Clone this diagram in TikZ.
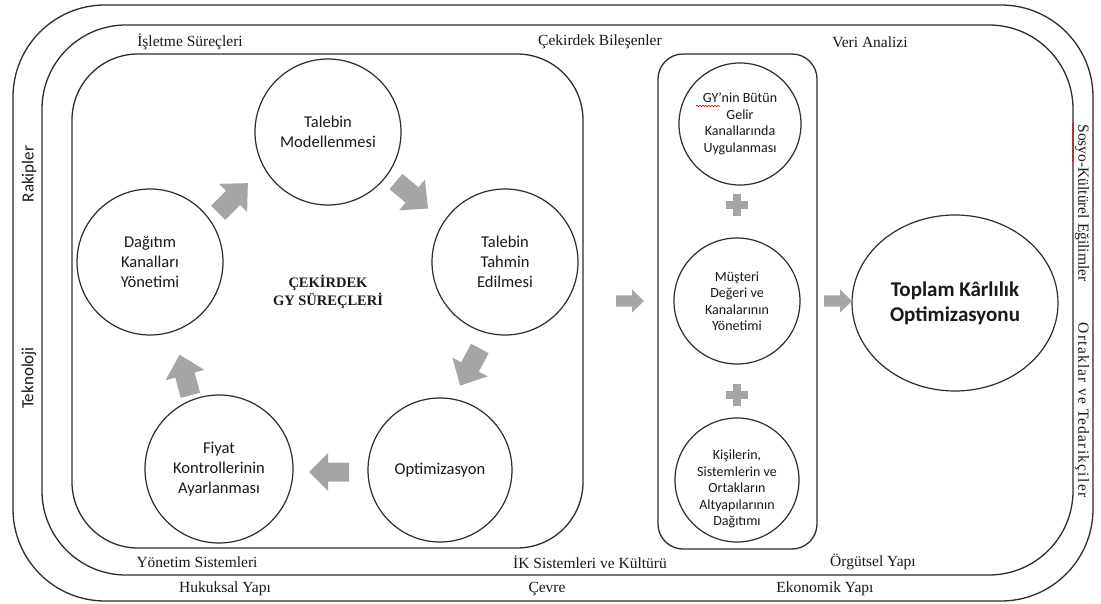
\documentclass[tikz,border=0pt]{standalone}
\usepackage{fontspec}
\setmainfont{Liberation Serif}
\newfontfamily\calibfont{Carlito}
\usetikzlibrary{shapes.geometric,decorations.pathmorphing}

\definecolor{linegray}{RGB}{45,45,45}
\definecolor{arrowgray}{RGB}{165,165,165}
\definecolor{txtgray}{RGB}{25,25,25}

% block arrow: x, y, angle, length, head length, head width, shaft width
\newcommand{\blockarrow}[7]{%
  \fill[arrowgray, shift={(#1,#2)}, rotate=#3]
    (-#4/2,-#7/2) -- (#4/2-#5,-#7/2) -- (#4/2-#5,-#6/2) -- (#4/2,0)
    -- (#4/2-#5,#6/2) -- (#4/2-#5,#7/2) -- (-#4/2,#7/2) -- cycle;}
% plus sign: x, y, size, bar thickness
\newcommand{\plussign}[4]{%
  \fill[arrowgray] (#1-#3/2,#2-#4/2) rectangle (#1+#3/2,#2+#4/2);
  \fill[arrowgray] (#1-#4/2,#2-#3/2) rectangle (#1+#4/2,#2+#3/2);}

\begin{document}
\begin{tikzpicture}[x=1pt,y=-1pt,
  frame/.style={draw=linegray, line width=1.3pt},
  proc/.style={circle, draw=linegray, line width=1.2pt, inner sep=0pt, align=center,
    text=txtgray, font=\calibfont\fontsize{16.5}{20}\selectfont},
  comp/.style={circle, draw=linegray, line width=1.2pt, inner sep=0pt, align=center,
    text=txtgray, font=\calibfont\fontsize{14}{16.5}\selectfont},
  comptext/.style={inner sep=0pt, align=center, text=txtgray,
    font=\calibfont\fontsize{14}{16.5}\selectfont},
  ring/.style={inner sep=0pt, text=txtgray, font=\fontsize{15.5}{18}\selectfont},
  side/.style={inner sep=0pt, text=txtgray, font=\calibfont\fontsize{17}{20}\selectfont},
  squiggle/.style={draw=red!85!black, line width=0.6pt, decorate,
    decoration={snake, amplitude=0.8pt, segment length=3pt}},
]
\useasboundingbox (0,0) rectangle (1101,604);
\fill[white] (0,0) rectangle (1101,604);

% nested frames
\draw[frame, rounded corners=92pt] (13,5) rectangle (1093,601);
\draw[frame, rounded corners=84pt] (42,25) rectangle (1073,575);
\draw[frame, rounded corners=66pt] (72,54) rectangle (583,548);
\draw[frame, rounded corners=25pt] (658,54) rectangle (817,549);

% ring labels
\node[ring] (isletme) at (190,42) {İşletme Süreçleri};
\node[ring] (bilesen) at (600,42) {Çekirdek Bileşenler};
\node[ring] (veri) at (870,42) {Veri Analizi};
\node[ring] (yonetim) at (197,562) {Yönetim Sistemleri};
\node[ring] (ik) at (590,562) {İK Sistemleri ve Kültürü};
\node[ring] (orgut) at (873,562) {Örgütsel Yapı};
\node[ring] (hukuk) at (225,589) {Hukuksal Yapı};
\node[ring] (cevre) at (547,589) {Çevre};
\node[ring] (ekonomi) at (825,589) {Ekonomik Yapı};

% side labels
\node[side, rotate=90] (rakip) at (29,174) {Rakipler};
\node[side, rotate=90] (teknoloji) at (29,378) {Teknoloji};
\node[ring, rotate=-90] (sosyo) at (1082,203) {Sosyo-Kültürel Eğilimler};
\node[ring, rotate=-90] (ortak) at (1082,410) {\addfontfeature{LetterSpace=8}Ortaklar ve Tedarikçiler};
\draw[squiggle] (1073,122) -- (1073,162);

% core revenue management cycle
\node[proc, minimum size=146pt] (model) at (328,132) {Talebin\\Modellenmesi};
\node[proc, minimum size=146pt] (tahmin) at (505,262) {Talebin\\Tahmin\\Edilmesi};
\node[proc, minimum size=144pt] (optim) at (440,470) {Optimizasyon};
\node[proc, minimum size=148pt] (fiyat) at (219,469) {Fiyat\\Kontrollerinin\\Ayarlanması};
\node[proc, minimum size=146pt] (dagitim) at (150,262) {Dağıtım\\Kanalları\\Yönetimi};
\node[inner sep=0pt, align=center, text=txtgray, font=\bfseries\fontsize{14.5}{18.5}\selectfont]
  (cekirdek) at (328,292) {ÇEKİRDEK\\GY SÜREÇLERİ};

\blockarrow{233}{198}{45}{42}{21}{40}{20}
\blockarrow{412}{195}{-40}{42}{21}{40}{20}
\blockarrow{470}{367}{-118}{42}{21}{40}{20}
\blockarrow{329}{472}{180}{40}{19}{38}{19}
\blockarrow{185}{375}{105}{42}{21}{40}{20}

% core components
\node[comp, minimum size=122pt] (gy) at (740,124) {GY’nin Bütün\\Gelir\\Kanallarında\\Uygulanması};
\draw[squiggle] (696,106) -- (720,106);
\node[comp, minimum size=126pt] (musteri) at (737,301) {Müşteri\\Değeri ve\\Kanalarının\\Yönetimi};
\node[comp, minimum size=124pt] (kisiler) at (737,480) {};
\node[comptext] (kisilertext) at (737,489) {Kişilerin,\\Sistemlerin ve\\Ortakların\\Altyapılarının\\Dağıtımı};
\plussign{737}{205}{22}{8}
\plussign{737}{395}{22}{8}

% outcome
\node[ellipse, draw=linegray, line width=1.2pt, inner sep=0pt, align=center, text=txtgray,
  minimum width=206pt, minimum height=176pt,
  font=\calibfont\bfseries\fontsize{21}{25}\selectfont] (toplam) at (955,303) {Toplam Kârlılık\\Optimizasyonu};

\blockarrow{630}{301}{0}{28}{12}{23}{11}
\blockarrow{838}{301}{0}{28}{12}{23}{11}
\end{tikzpicture}
\end{document}
